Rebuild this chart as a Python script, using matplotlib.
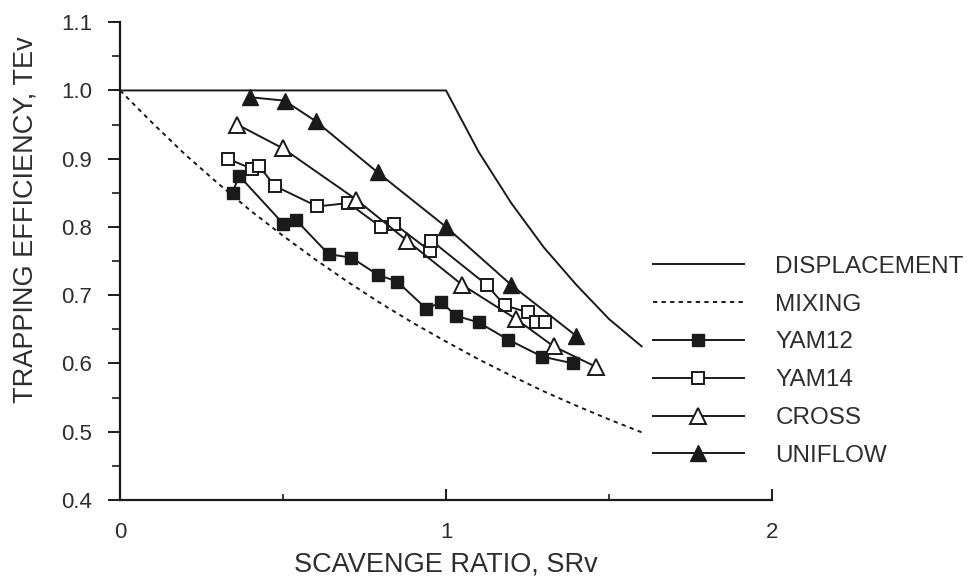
import matplotlib
matplotlib.use("Agg")
import matplotlib.pyplot as plt
from matplotlib.ticker import MultipleLocator

plt.rcParams["font.family"] = ["Liberation Sans", "DejaVu Sans"]

# theoretical limits
disp_sr = [0.0, 1.0, 1.1, 1.2, 1.3, 1.4, 1.5, 1.6]
disp_te = [1.0, 1.0, 0.91, 0.835, 0.77, 0.715, 0.665, 0.625]
mix_sr = [0.0, 0.1, 0.2, 0.3, 0.4, 0.5, 0.6, 0.7, 0.8, 0.9, 1.0, 1.1, 1.2, 1.3, 1.4, 1.5, 1.6]
mix_te = [1.0, 0.952, 0.906, 0.864, 0.824, 0.787, 0.752, 0.719, 0.688, 0.659,
          0.632, 0.606, 0.582, 0.559, 0.538, 0.518, 0.499]

# measured cylinders
yam12_sr = [0.345, 0.365, 0.50, 0.54, 0.64, 0.71, 0.79, 0.85, 0.94, 0.985, 1.03, 1.10, 1.19, 1.295, 1.39]
yam12_te = [0.85, 0.875, 0.805, 0.81, 0.76, 0.755, 0.73, 0.72, 0.68, 0.69, 0.67, 0.66, 0.635, 0.61, 0.60]
yam14_sr = [0.33, 0.405, 0.425, 0.475, 0.605, 0.70, 0.80, 0.84, 0.95, 0.955, 1.125, 1.18, 1.25, 1.275, 1.305]
yam14_te = [0.90, 0.885, 0.89, 0.86, 0.83, 0.835, 0.80, 0.805, 0.765, 0.78, 0.715, 0.685, 0.675, 0.66, 0.66]
cross_sr = [0.36, 0.50, 0.725, 0.88, 1.05, 1.215, 1.33, 1.46]
cross_te = [0.95, 0.915, 0.84, 0.78, 0.715, 0.665, 0.625, 0.595]
uni_sr = [0.40, 0.505, 0.60, 0.79, 1.0, 1.20, 1.40]
uni_te = [0.99, 0.985, 0.955, 0.88, 0.80, 0.715, 0.64]

ink = "#1a1a1a"
txt = "#2e2e2e"

fig = plt.figure(figsize=(9.76, 5.84), dpi=100)
ax = fig.add_axes([0.123, 0.144, 0.668, 0.818])

lw = 1.4
ax.plot(disp_sr, disp_te, color=ink, lw=lw, label="DISPLACEMENT")
ax.plot(mix_sr, mix_te, color=ink, lw=lw, linestyle=(0, (2.2, 2.2)), label="MIXING")
ax.plot(yam12_sr, yam12_te, color=ink, lw=lw, marker="s", ms=8.5,
        mfc=ink, mec=ink, label="YAM12")
ax.plot(yam14_sr, yam14_te, color=ink, lw=lw, marker="s", ms=8.5,
        mfc="white", mec=ink, mew=1.4, label="YAM14")
ax.plot(cross_sr, cross_te, color=ink, lw=lw, marker="^", ms=11,
        mfc="white", mec=ink, mew=1.4, label="CROSS")
ax.plot(uni_sr, uni_te, color=ink, lw=lw, marker="^", ms=11,
        mfc=ink, mec=ink, label="UNIFLOW")

ax.set_xlim(0, 2)
ax.set_ylim(0.4, 1.1)
ax.xaxis.set_major_locator(MultipleLocator(1))
ax.xaxis.set_minor_locator(MultipleLocator(0.5))
ax.yaxis.set_major_locator(MultipleLocator(0.1))
ax.yaxis.set_minor_locator(MultipleLocator(0.05))
ax.xaxis.set_major_formatter(plt.FuncFormatter(lambda v, p: f"{v:.0f}"))
ax.yaxis.set_major_formatter(plt.FuncFormatter(lambda v, p: f"{v:.1f}"))

for side in ("top", "right"):
    ax.spines[side].set_visible(False)
for side in ("left", "bottom"):
    ax.spines[side].set_linewidth(1.6)
    ax.spines[side].set_color(ink)

ax.tick_params(axis="y", which="major", direction="out", length=9, width=1.4,
               pad=11, labelsize=16, labelcolor=txt, color=ink)
ax.tick_params(axis="y", which="minor", direction="out", length=6, width=1.2, color=ink)
ax.tick_params(axis="x", which="major", direction="in", length=8, width=1.4,
               pad=16, labelsize=16, labelcolor=txt, color=ink)
ax.tick_params(axis="x", which="minor", direction="in", length=4, width=1.2, color=ink)

ax.set_xlabel("SCAVENGE RATIO, SRv", fontsize=19.5, color=txt, labelpad=6)
ax.set_ylabel("TRAPPING EFFICIENCY, TEv", fontsize=19.5, color=txt)
# label sits a bit above the middle of the axis
ax.yaxis.set_label_coords(-0.125, 0.586)

ax.legend(loc="center left", bbox_to_anchor=(0.817, 0.29), frameon=False,
          fontsize=17.5, handlelength=3.75, handletextpad=1.3, labelspacing=0.65,
          borderpad=0, borderaxespad=0, labelcolor=txt)

fig.savefig("out.png", dpi=100)
